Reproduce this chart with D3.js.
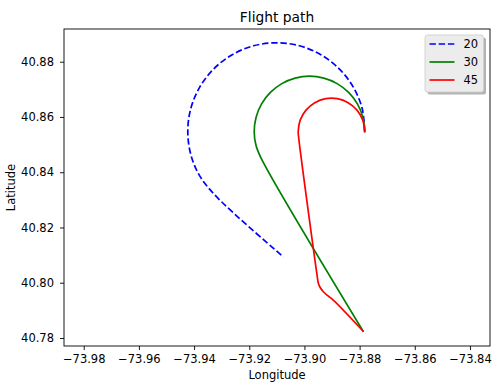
<!DOCTYPE html>
<html>
<head>
<meta charset="utf-8">
<script src="https://cdn.jsdelivr.net/npm/d3@7"></script>
<style>
  html, body { margin: 0; padding: 0; background: #fff; }
  svg { display: block; }
  text { font-family: "DejaVu Sans", sans-serif; fill: #000; }
</style>
</head>
<body>
<svg id="chart" width="493" height="382"></svg>
<script>
// ---- data ----
const seriesNames = ["20", "30", "45"];
const seriesColors = ["#0000ff", "#008000", "#ff0000"];

const lon20 = [-73.87816,-73.87907,-73.88229,-73.88740,-73.89405,-73.90179,-73.91013,-73.91846,-73.92620,-73.93285,-73.93796,-73.94119,-73.94228,-73.94119,-73.93796,-73.93162,-73.90759];
const lat20 = [40.85474,40.86306,40.87079,40.87743,40.88253,40.88576,40.88684,40.88576,40.88253,40.87743,40.87079,40.86306,40.85474,40.84641,40.83869,40.83089,40.80932];

const lon30 = [-73.87816,-73.87881,-73.88080,-73.88399,-73.88814,-73.89298,-73.89817,-73.90335,-73.90819,-73.91234,-73.91553,-73.91752,-73.91821,-73.91752,-73.91553,-73.87878];
const lat30 = [40.85474,40.85991,40.86475,40.86889,40.87207,40.87406,40.87475,40.87406,40.87207,40.86889,40.86475,40.85991,40.85474,40.84956,40.84473,40.78253];

const lon45 = [-73.87816,-73.87885,-73.88095,-73.88416,-73.88809,-73.89229,-73.89623,-73.89943,-73.90154,-73.90226,-73.90215,-73.89538,-73.89498,-73.89425,-73.89316,-73.89182,-73.89012,-73.87878];
const lat45 = [40.85474,40.85886,40.86248,40.86518,40.86661,40.86661,40.86518,40.86248,40.85886,40.85474,40.85307,40.80244,40.79991,40.79817,40.79672,40.79549,40.79426,40.78253];

const xTicks = [-73.98, -73.96, -73.94, -73.92, -73.90, -73.88, -73.86, -73.84];
const yTicks = [40.78, 40.80, 40.82, 40.84, 40.86, 40.88];
const xDomain = [-73.98715, -73.83274];
const yDomain = [40.7771, 40.89184];

// ---- layout ----
const plot = { left: 64, right: 490, top: 29, bottom: 346 };
const svg = d3.select("#chart");

const x = d3.scaleLinear().domain(xDomain).range([plot.left, plot.right]);
const y = d3.scaleLinear().domain(yDomain).range([plot.bottom, plot.top]);

const series = [
  { name: seriesNames[0], color: seriesColors[0], dash: "6.4,2.8", pts: lon20.map((d, i) => [d, lat20[i]]) },
  { name: seriesNames[1], color: seriesColors[1], dash: null, pts: lon30.map((d, i) => [d, lat30[i]]) },
  { name: seriesNames[2], color: seriesColors[2], dash: null, pts: lon45.map((d, i) => [d, lat45[i]]) }
];

const line = d3.line()
  .x(d => x(d[0]))
  .y(d => y(d[1]))
  .curve(d3.curveCatmullRom.alpha(0.5));

svg.append("g").selectAll("path")
  .data(series)
  .join("path")
  .attr("d", d => line(d.pts))
  .attr("fill", "none")
  .attr("stroke", d => d.color)
  .attr("stroke-width", 1.7)
  .attr("stroke-dasharray", d => d.dash)
  .attr("stroke-linecap", d => d.dash ? "butt" : "square")
  .attr("stroke-linejoin", "round");

// ---- axes ----
const fmt = d3.format(".2f");
const xAxis = svg.append("g")
  .attr("transform", `translate(0,${plot.bottom})`)
  .call(d3.axisBottom(x).tickValues(xTicks).tickFormat(fmt).tickSize(4).tickPadding(5).tickSizeOuter(0));
const yAxis = svg.append("g")
  .attr("transform", `translate(${plot.left},0)`)
  .call(d3.axisLeft(y).tickValues(yTicks).tickFormat(fmt).tickSize(4).tickPadding(6).tickSizeOuter(0));

[xAxis, yAxis].forEach(g => {
  g.select(".domain").remove();
  g.selectAll(".tick line").attr("stroke", "#000").attr("stroke-width", 0.9);
  g.selectAll(".tick text").attr("font-size", "11.5px").attr("font-family", "DejaVu Sans").attr("fill", "#000");
});

// frame (spines)
svg.append("rect")
  .attr("x", plot.left).attr("y", plot.top)
  .attr("width", plot.right - plot.left).attr("height", plot.bottom - plot.top)
  .attr("fill", "none").attr("stroke", "#000").attr("stroke-width", 0.9);

// ---- titles ----
svg.append("text")
  .attr("x", (plot.left + plot.right) / 2).attr("y", 21.5)
  .attr("text-anchor", "middle").attr("font-size", "13.8px")
  .text("Flight path");

svg.append("text")
  .attr("x", (plot.left + plot.right) / 2).attr("y", 379)
  .attr("text-anchor", "middle").attr("font-size", "11.5px")
  .text("Longitude");

svg.append("text")
  .attr("transform", `translate(15,${(plot.top + plot.bottom) / 2}) rotate(-90)`)
  .attr("text-anchor", "middle").attr("font-size", "11.5px")
  .text("Latitude");

// ---- legend ----
const lg = svg.append("g");
const lb = { x: 425, y: 35, w: 58.5, h: 57 };
lg.append("rect")
  .attr("x", lb.x + 2.5).attr("y", lb.y + 2.5).attr("width", lb.w).attr("height", lb.h)
  .attr("rx", 2.5).attr("fill", "#b3b3b3");
lg.append("rect")
  .attr("x", lb.x).attr("y", lb.y).attr("width", lb.w).attr("height", lb.h)
  .attr("rx", 2.5).attr("fill", "#ececec").attr("stroke", "#d0d0d0").attr("stroke-width", 0.9);

const rows = lg.selectAll("g.row").data(series).join("g")
  .attr("class", "row")
  .attr("transform", (d, i) => `translate(0,${44 + i * 18})`);
rows.append("line")
  .attr("x1", 429.5).attr("x2", 454.5).attr("y1", 0).attr("y2", 0)
  .attr("stroke", d => d.color).attr("stroke-width", 1.7)
  .attr("stroke-dasharray", d => d.dash);
rows.append("text")
  .attr("x", 463.5).attr("y", 0).attr("dy", "0.36em")
  .attr("font-size", "11.5px")
  .text(d => d.name);
</script>
</body>
</html>
